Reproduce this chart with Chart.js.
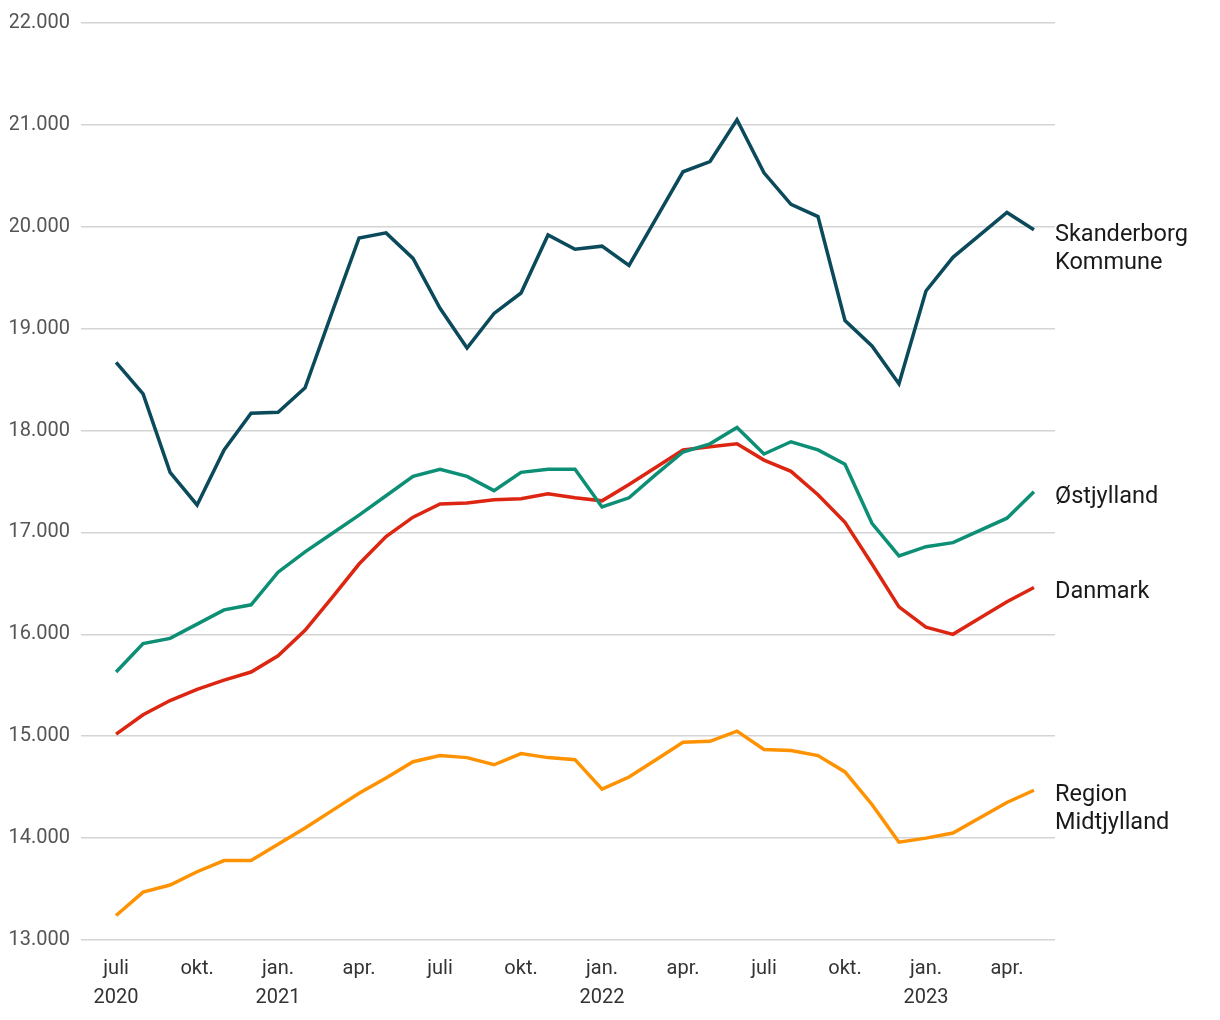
<!DOCTYPE html>
<html>
<head>
<meta charset="utf-8">
<script src="https://cdn.jsdelivr.net/npm/chart.js@4"></script>
<style>
  body { margin: 0; background: #fff; }
  canvas { display: block; }
</style>
</head>
<body>
<canvas id="chart" width="1220" height="1020"></canvas>
<script>
const months = ["jul 2020","aug 2020","sep 2020","okt 2020","nov 2020","dec 2020",
  "jan 2021","feb 2021","mar 2021","apr 2021","maj 2021","jun 2021","jul 2021","aug 2021","sep 2021","okt 2021","nov 2021","dec 2021",
  "jan 2022","feb 2022","mar 2022","apr 2022","maj 2022","jun 2022","jul 2022","aug 2022","sep 2022","okt 2022","nov 2022","dec 2022",
  "jan 2023","feb 2023","mar 2023","apr 2023","maj 2023"];

const skanderborg = [18670, 18360, 17590, 17270, 17810, 18170, 18180, 18420, 19160, 19890, 19940, 19690,
  19200, 18810, 19150, 19350, 19920, 19780, 19810, 19620, 20080, 20540, 20640, 21050,
  20530, 20220, 20100, 19080, 18830, 18460, 19370, 19700, 19920, 20140, 19970];
const oestjylland = [15630, 15910, 15960, 16100, 16240, 16290, 16610, 16810, 16990, 17170, 17360, 17550,
  17620, 17550, 17410, 17590, 17620, 17620, 17250, 17340, 17570, 17790, 17870, 18030,
  17770, 17890, 17810, 17670, 17090, 16770, 16860, 16900, 17020, 17140, 17400];
const danmark = [15020, 15210, 15350, 15460, 15550, 15630, 15790, 16040, 16360, 16690, 16960, 17150,
  17280, 17290, 17320, 17330, 17380, 17340, 17310, 17470, 17640, 17810, 17840, 17870,
  17710, 17600, 17370, 17100, 16690, 16270, 16070, 16000, 16160, 16320, 16460];
const regionMidt = [13240, 13470, 13540, 13670, 13780, 13780, 13940, 14100, 14270, 14440, 14590, 14750,
  14810, 14790, 14720, 14830, 14790, 14770, 14480, 14600, 14770, 14940, 14950, 15050,
  14870, 14860, 14810, 14650, 14330, 13960, 14000, 14050, 14200, 14350, 14470];

// x tick every third month
const xTickLabels = [["juli","2020"],"okt.",["jan.","2021"],"apr.","juli","okt.",
  ["jan.","2022"],"apr.","juli","okt.",["jan.","2023"],"apr."];
const yTicks = [13000,14000,15000,16000,17000,18000,19000,20000,21000,22000];

const series = [
  { name: ["Skanderborg","Kommune"], values: skanderborg, color: "#0b4a5b" },
  { name: ["Østjylland"], values: oestjylland, color: "#0c8f75" },
  { name: ["Danmark"], values: danmark, color: "#dc2612" },
  { name: ["Region","Midtjylland"], values: regionMidt, color: "#ff9200" }
];

const endLabels = {
  id: "endLabels",
  afterDatasetsDraw(chart) {
    const ctx = chart.ctx;
    const y = chart.scales.y;
    ctx.save();
    ctx.font = "23.5px Roboto";
    ctx.fillStyle = "#1a1a1a";
    ctx.textAlign = "left";
    ctx.textBaseline = "middle";
    series.forEach(s => {
      const py = y.getPixelForValue(s.values[s.values.length - 1]) + 5;
      s.name.forEach((line, k) => ctx.fillText(line, chart.chartArea.right, py + k * 28));
    });
    ctx.restore();
  }
};

new Chart(document.getElementById("chart"), {
  type: "line",
  data: {
    datasets: series.map(s => ({
      label: s.name.join(" "),
      data: s.values.map((v, i) => ({ x: i, y: v })),
      borderColor: s.color,
      borderWidth: 3.5,
      pointRadius: 0,
      tension: 0,
      fill: false
    }))
  },
  options: {
    responsive: false,
    animation: false,
    devicePixelRatio: 1,
    layout: { padding: { top: 13, right: 165, left: 10, bottom: 2 } },
    plugins: { legend: { display: false }, tooltip: { enabled: false } },
    scales: {
      x: {
        type: "linear",
        min: -1.3,
        max: 34.78,
        afterBuildTicks: axis => { axis.ticks = xTickLabels.map((_, k) => ({ value: k * 3 })); },
        grid: { display: false },
        border: { display: false },
        ticks: {
          color: "#333",
          font: { family: "Roboto", size: 20, lineHeight: 1.45 },
          padding: 6,
          maxRotation: 0,
          autoSkip: false,
          callback: v => xTickLabels[v / 3]
        }
      },
      y: {
        min: 13000,
        max: 22000,
        afterBuildTicks: axis => { axis.ticks = yTicks.map(v => ({ value: v })); },
        afterFit: axis => { axis.width = 71; },
        grid: { color: "#d4d4d4", lineWidth: 1.5, drawTicks: false },
        border: { display: false },
        ticks: {
          color: "#555",
          font: { family: "Roboto", size: 20 },
          padding: 11,
          callback: v => v.toLocaleString("da-DK")
        }
      }
    }
  },
  plugins: [endLabels]
});
</script>
</body>
</html>
